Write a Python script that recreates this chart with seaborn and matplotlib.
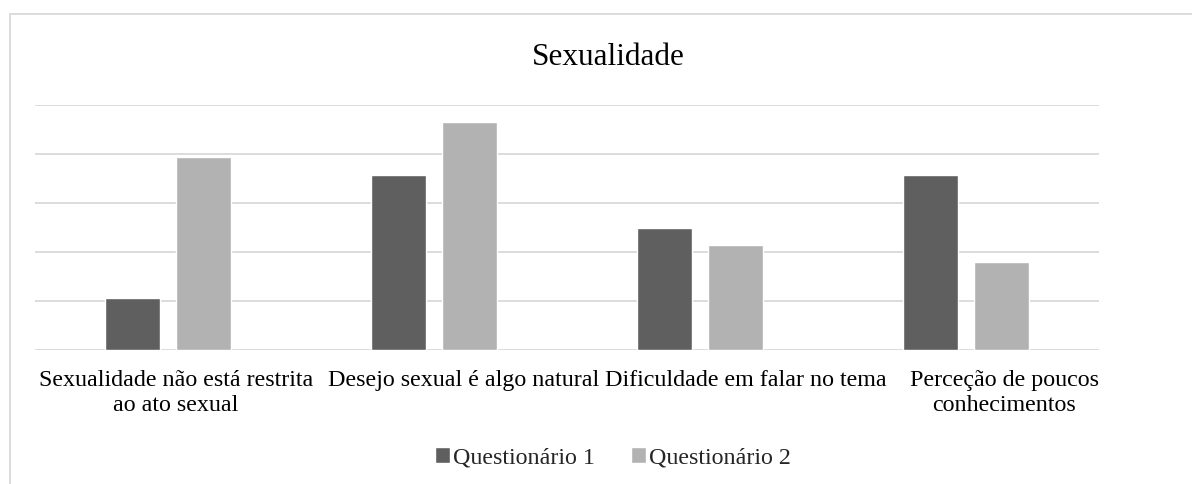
# Gráfico de barras agrupadas - Sexualidade (Questionário 1 vs 2)

import pandas as pd
import matplotlib.pyplot as plt
import matplotlib.transforms as mtransforms
import seaborn as sns
from matplotlib.patches import Rectangle

# --- DADOS (percentagens) ---
categorias = [
    "Sexualidade não está restrita\nao ato sexual",
    "Desejo sexual é algo natural",
    "Dificuldade em falar no tema",
    "Perceção de poucos\nconhecimentos",
]
questionario_1 = [10.7, 35.7, 25.0, 35.7]
questionario_2 = [39.3, 46.4, 21.4, 17.9]
series = ["Questionário 1", "Questionário 2"]
cores = {"Questionário 1": "#5f5f5f", "Questionário 2": "#b2b2b2"}

df = pd.DataFrame({
    "Categoria": categorias * 2,
    "Valor": questionario_1 + questionario_2,
    "Questionário": [series[0]] * 4 + [series[1]] * 4,
})

sns.set_theme(style="white")
plt.rcParams["font.family"] = ["Liberation Serif", "DejaVu Serif"]

fig = plt.figure(figsize=(11.92, 4.84), dpi=100)
ax = fig.add_axes([0.0291, 0.2762, 0.8931, 0.5075])

sns.barplot(data=df, x="Categoria", y="Valor", hue="Questionário",
            palette=cores, width=0.53, gap=0.22, ax=ax, saturation=1)

ax.set_ylim(0, 50)
ax.set_yticks([0, 10, 20, 30, 40, 50])
ax.set_yticklabels([])
ax.tick_params(axis="y", length=0)
ax.tick_params(axis="x", length=0, pad=14, labelsize=17.3, labelcolor="#000000")
ax.set_xticks(range(len(categorias)))
ax.set_xticklabels(categorias, linespacing=1.25)
ax.set_xlim(-0.5, len(categorias) - 0.5)
ax.yaxis.grid(True, color="#d9d9d9", linewidth=1.3)
ax.set_axisbelow(True)
ax.set_xlabel("")
ax.set_ylabel("")
for s in ax.spines.values():
    s.set_visible(False)

# desloca um pouco os rótulos para a direita, como no original (evita sobreposição)
deslocamentos = [8, 30, 46, 38]
for lbl, dx in zip(ax.get_xticklabels(), deslocamentos):
    lbl.set_transform(lbl.get_transform() + mtransforms.ScaledTranslation(dx / 100, 0, fig.dpi_scale_trans))

# Título
fig.text(0.51, 0.882, "Sexualidade", ha="center", va="center", fontsize=22.5, color="#000000")

# Legenda embaixo
sns.move_legend(ax, loc="center", bbox_to_anchor=(0.514, 0.054), bbox_transform=fig.transFigure,
                ncol=2, frameon=False, title=None, fontsize=17.3,
                handlelength=0.65, handleheight=0.65, handletextpad=0.1, columnspacing=1.5)

# Moldura do gráfico
fig.add_artist(Rectangle((10 / 1192, -0.1), 1.2, 0.971 + 0.1, transform=fig.transFigure,
                         fill=False, edgecolor="#d9d9d9", linewidth=1.3))

plt.savefig("out.png", dpi=100)
plt.close()
print("Gráfico salvo!")
